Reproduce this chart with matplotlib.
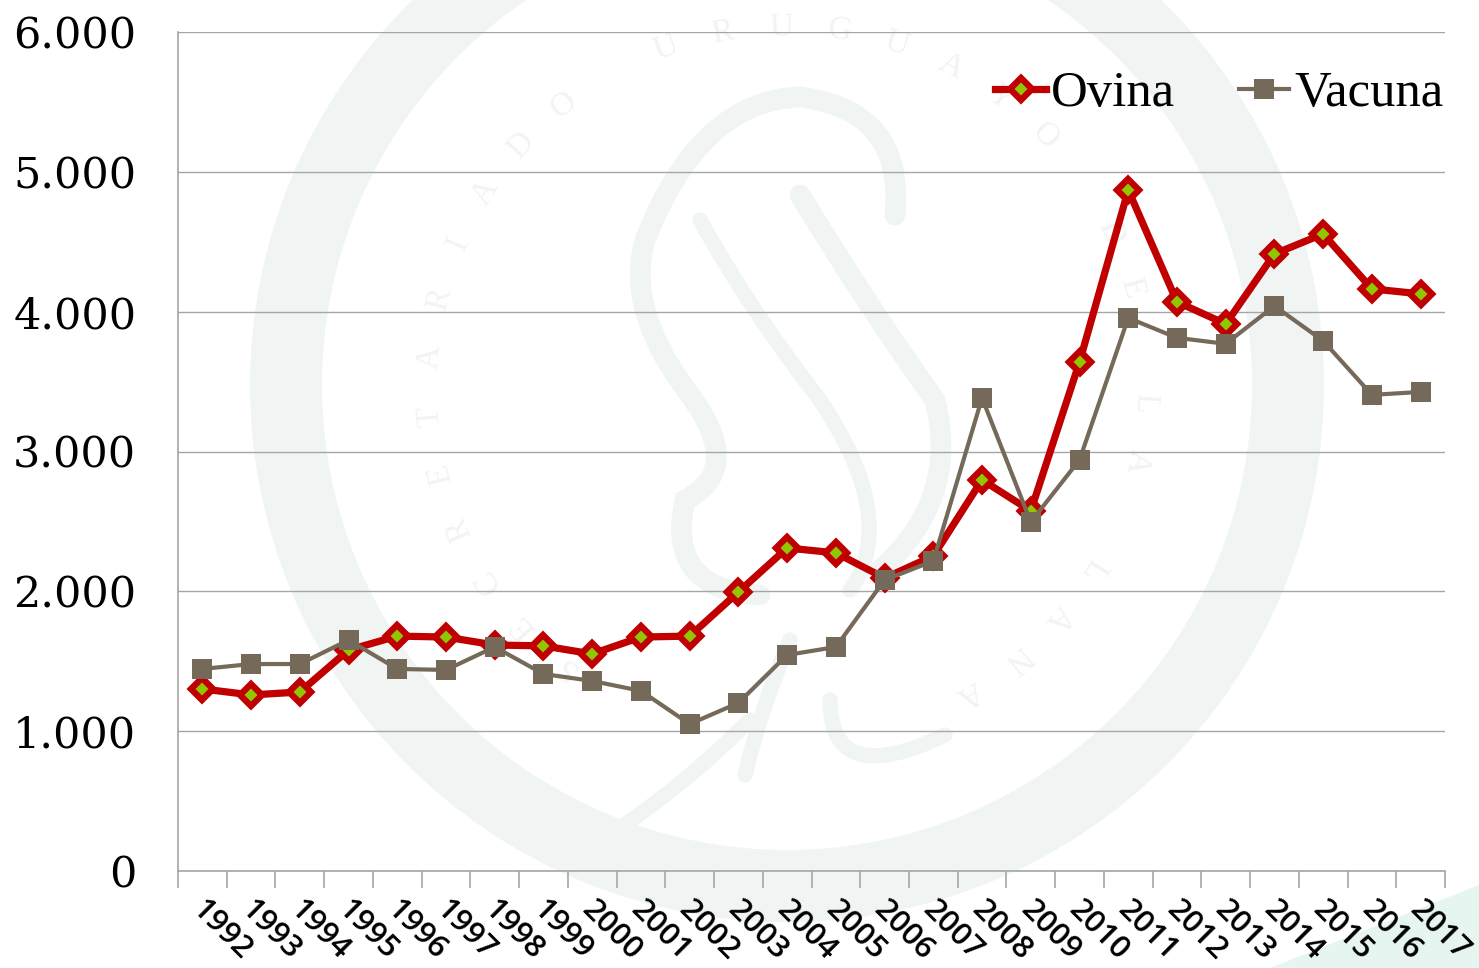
import math
import matplotlib
matplotlib.use("Agg")
import matplotlib.pyplot as plt
from matplotlib.patches import Polygon, Wedge, PathPatch
from matplotlib.path import Path

years = [str(y) for y in range(1992, 2018)]
ovina = [1302, 1259, 1280, 1580, 1680, 1673, 1616, 1610, 1552, 1673, 1680, 1995, 2310,
         2275, 2095, 2253, 2797, 2575, 3640, 4870, 4070, 3912, 4413, 4556, 4163, 4127]
vacuna = [1445, 1480, 1480, 1652, 1445, 1438, 1602, 1409, 1359, 1288, 1051, 1202, 1545,
          1602, 2081, 2217, 3383, 2496, 2940, 3955, 3813, 3770, 4041, 3791, 3405, 3426]
yticks = [0, 1000, 2000, 3000, 4000, 5000, 6000]
ylabels = ["0", "1.000", "2.000", "3.000", "4.000", "5.000", "6.000"]

W, H = 1479, 968
fig = plt.figure(figsize=(W / 100, H / 100), dpi=100, facecolor="white")

# watermark layer in pixel coordinates
bg = fig.add_axes([0, 0, 1, 1], zorder=0)
bg.set_xlim(0, W)
bg.set_ylim(H, 0)
bg.axis("off")
wm = "#f0f5f3"
bg.add_patch(Wedge((787, 385), 537, 0, 360, width=72, fc=wm, ec="none"))
bg.add_patch(Polygon([(1270, 968), (1479, 885), (1479, 968)], fc="#e6f5ef", ec="none"))


def stroke(verts, lw=15):
    if len(verts) % 2 == 0:
        verts = verts + [verts[-1]]
    codes = [Path.MOVETO] + [Path.CURVE3] * (len(verts) - 1)
    bg.add_patch(PathPatch(Path(verts, codes), fc="none", ec=wm, lw=lw, capstyle="round"))


stroke([(895, 215), (905, 110), (800, 97), (700, 100), (645, 240), (625, 310), (690, 395), (745, 470), (685, 500),
        (665, 590), (760, 595)])
stroke([(800, 195), (870, 310), (935, 400), (960, 500), (880, 570)])
stroke([(700, 220), (750, 310), (820, 400), (900, 520), (850, 590)], lw=11)
stroke([(595, 845), (680, 790), (750, 720)], lw=11)
stroke([(745, 775), (760, 710), (790, 640)], lw=11)
stroke([(830, 700), (830, 790), (945, 735)], lw=11)

letters = "SECRETARIADO URUGUAYO DE LA LANA"
for i, ch in enumerate(letters):
    ang = math.radians(232 - i * 9.4)
    bg.text(787 + 358 * math.cos(ang), 385 - 358 * math.sin(ang), ch, color="#f1f4f3", fontsize=24,
            family="Liberation Serif", ha="center", va="center", rotation=math.degrees(ang) - 90)

ax = fig.add_axes([178 / W, 1 - 871 / H, (1445 - 178) / W, (871 - 32) / H], zorder=1)
ax.patch.set_alpha(0)
x = list(range(len(years)))
ax.set_xlim(-0.5, len(years) - 0.5)
ax.set_ylim(0, 6000)
ax.grid(axis="y", color="#a6a6a6", lw=1)
ax.set_axisbelow(True)
for sp in ["top", "right"]:
    ax.spines[sp].set_visible(False)
for sp in ["left", "bottom"]:
    ax.spines[sp].set_color("#a6a6a6")
    ax.spines[sp].set_linewidth(1.2)

ax.plot(x, ovina, color="#c00000", lw=5.2, marker="D", ms=10.7, mfc="#8fc800", mec="#c00000",
        mew=4.6, label="Ovina", zorder=3)
ax.plot(x, vacuna, color="#75695a", lw=3, marker="s", ms=14.5, mfc="#75695a", mec="#75695a",
        mew=0, label="Vacuna", zorder=4)

ax.set_yticks(yticks, ylabels, family="DejaVu Serif", fontsize=31, color="black")
ax.tick_params(axis="y", length=0, pad=30)
ax.set_xticks([i - 0.5 for i in range(len(years) + 1)], [""] * (len(years) + 1))
ax.tick_params(axis="x", length=12, width=1.2, color="#a6a6a6")
for i, lab in enumerate(years):
    ax.annotate(lab, (i, 0), xytext=(-6, -34), textcoords="offset pixels", annotation_clip=False,
                rotation=-45, rotation_mode="anchor", ha="left", va="center",
                family="Open Sans", fontsize=22.5, weight="semibold", color="black", clip_on=False)

h, l = ax.get_legend_handles_labels()
leg = ax.legend(h, l, loc="upper right", bbox_to_anchor=(1.019, 0.984), ncol=2, frameon=False,
                prop={"family": "Liberation Serif", "size": 36.5}, handlelength=1.0, handletextpad=0.1,
                columnspacing=1.25, borderpad=0)
fig.savefig("out.png", dpi=100)
